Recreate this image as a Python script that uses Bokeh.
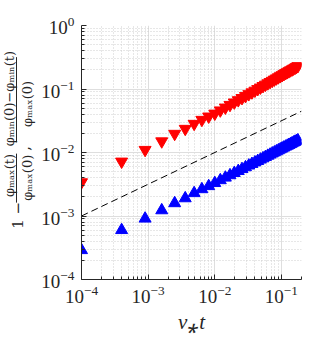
import numpy as np
from bokeh.plotting import figure
from bokeh.layouts import row
from bokeh.models import FixedTicker, Range1d
from bokeh.core.properties import value
from bokeh.embed import file_html
from bokeh.resources import INLINE

# nu_* t values
t = [0.0001, 0.0004, 0.0009, 0.0016, 0.0025, 0.0036, 0.0049, 0.0064, 0.0081, 0.01,
     0.0121, 0.0144, 0.0169, 0.0196, 0.0225, 0.0256, 0.0289, 0.0324, 0.0361, 0.04,
     0.0441, 0.0484, 0.0529, 0.0576, 0.0625, 0.0676, 0.0729, 0.0784, 0.0841, 0.09,
     0.0961, 0.1024, 0.1089, 0.1156, 0.1225, 0.1296, 0.1369, 0.1444, 0.1521, 0.16,
     0.1681, 0.1764]

# (phi_min(0) - phi_min(t)) / phi_max(0)  -- red, downward triangles
red = [0.0034, 0.0072, 0.011, 0.015, 0.0197, 0.0236, 0.0283, 0.0327, 0.0369, 0.041,
       0.0460, 0.0510, 0.0562, 0.0614, 0.0667, 0.0721, 0.0775, 0.0830, 0.0886, 0.0942,
       0.0999, 0.1056, 0.1114, 0.1172, 0.1231, 0.1291, 0.1350, 0.1411, 0.1471, 0.1532,
       0.1594, 0.1656, 0.1718, 0.1781, 0.1844, 0.1907, 0.1971, 0.2035, 0.2099, 0.2164,
       0.2229, 0.2295]

# 1 - phi_max(t) / phi_max(0)  -- blue, upward triangles
blue = [0.00029, 0.00060, 0.00091, 0.00123, 0.00159, 0.00190, 0.00229, 0.00264, 0.00295, 0.00330,
        0.00366, 0.00402, 0.00438, 0.00475, 0.00511, 0.00548, 0.00585, 0.00623, 0.00660, 0.00698,
        0.00735, 0.00773, 0.00811, 0.00850, 0.00888, 0.00926, 0.00965, 0.01003, 0.01042, 0.01081,
        0.01120, 0.01159, 0.01198, 0.01237, 0.01277, 0.01316, 0.01356, 0.01395, 0.01435, 0.01475,
        0.01515, 0.01555]

# reference slope line ~ t^(1/2)
ref_t = [0.0001, 0.2]
ref_y = [0.001, 0.0447]

x_ticks = [1e-4, 1e-3, 1e-2, 1e-1]
y_ticks = [1e-4, 1e-3, 1e-2, 1e-1, 1.0]
x_minor = [m * 10.0 ** e for e in range(-4, 0) for m in range(2, 10)]
y_minor = [m * 10.0 ** e for e in range(-4, 0) for m in range(2, 10)]

# y-axis label pieces (rotated, read bottom to top)
ylab_text = ["1 −", "φₘₐₓ(t)", "φₘₐₓ(0)", ",", "φₘᵢₙ(0)−φₘᵢₙ(t)", "φₘₐₓ(0)"]
ylab_x = [17, 9, 26.5, 24, 9, 26.5]
ylab_y = [252, 199, 202, 163, 97, 104]
ylab_size = ["15px", "13px", "13px", "15px", "13px", "13px"]
bar_x = [16, 16]
bar_y0 = [235, 155]
bar_y1 = [170, 42]

# ---- left strip holding the stacked-fraction y label ----
lab = figure(width=38, height=337, x_range=Range1d(0, 38), y_range=Range1d(337, 0),
             output_backend="svg", toolbar_location=None,
             x_axis_location=None, y_axis_location=None,
             min_border=0, min_border_left=0, min_border_right=0,
             min_border_top=0, min_border_bottom=0)
lab.outline_line_color = None
lab.grid.visible = False
lab.text(x=ylab_x, y=ylab_y, text=ylab_text, angle=np.pi / 2,
         text_align="center", text_baseline="middle",
         text_font=value("DejaVu Serif"), text_font_size=ylab_size,
         text_color="#262626")
lab.segment(x0=bar_x, y0=bar_y0, x1=bar_x, y1=bar_y1, line_color="#262626", line_width=1)

# ---- main plot ----
p = figure(width=294, height=337, x_axis_type="log", y_axis_type="log",
           x_range=(1e-4, 0.2), y_range=(1e-4, 1.0),
           output_backend="svg", toolbar_location=None,
           min_border_left=43, min_border_right=31, min_border_top=25, min_border_bottom=58)

p.outline_line_color = None
p.xaxis.ticker = FixedTicker(ticks=x_ticks, minor_ticks=x_minor)
p.yaxis.ticker = FixedTicker(ticks=y_ticks, minor_ticks=y_minor)

for ax in (p.xaxis, p.yaxis):
    ax.axis_line_color = "#262626"
    ax.major_tick_line_color = "#262626"
    ax.minor_tick_line_color = "#262626"
    ax.major_tick_in = 5
    ax.major_tick_out = 0
    ax.minor_tick_in = 3
    ax.minor_tick_out = 0
    ax.major_label_text_font = "Liberation Serif"
    ax.major_label_text_font_size = "19px"
    ax.major_label_text_color = "#262626"
p.xaxis.major_label_standoff = 6
p.yaxis.major_label_standoff = 7

p.xaxis.axis_label = "ν⁎t"
p.xaxis.axis_label_text_font = "Liberation Serif"
p.xaxis.axis_label_text_font_style = "italic"
p.xaxis.axis_label_text_font_size = "21px"
p.xaxis.axis_label_text_color = "#262626"
p.xaxis.axis_label_standoff = 4

p.grid.grid_line_color = "#dedede"
p.grid.grid_line_width = 1
p.grid.minor_grid_line_color = "#cfcfcf"
p.grid.minor_grid_line_dash = "1 2"
p.grid.minor_grid_line_width = 1

p.line(ref_t, ref_y, line_color="black", line_dash="7 4", line_width=1)
p.scatter(t, red, marker="inverted_triangle", size=12, color="#ff0000")
p.scatter(t, blue, marker="triangle", size=12, color="#0000ff")

layout = row(lab, p, spacing=0)
open("out.html", "w").write(file_html(layout, INLINE))
